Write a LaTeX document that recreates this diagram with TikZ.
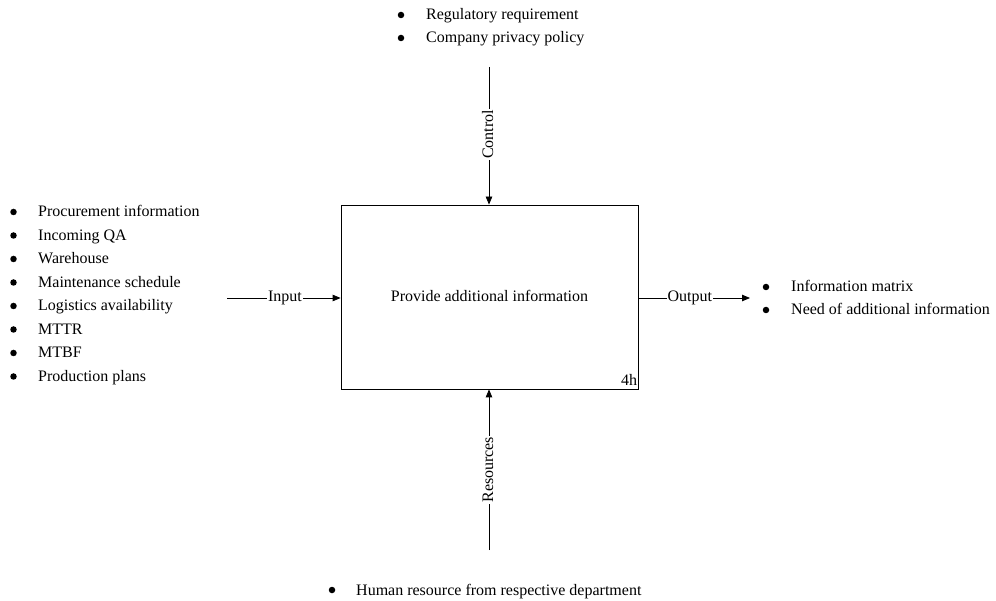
\documentclass[tikz,border=0pt]{standalone}
\usepackage{fontspec}
\setmainfont{Liberation Serif}
\usetikzlibrary{arrows.meta}
\begin{document}
\begin{tikzpicture}[x=1pt,y=-1pt,
  every node/.style={font=\fontsize{16}{19}\selectfont, inner sep=0pt, text height=11pt, text depth=3pt},
  item/.style={anchor=base west},
  dot/.style={circle, fill=black, minimum size=6.5pt, inner sep=0pt, text height=, text depth=},
  flow/.style={draw=black, line width=0.8pt, -{Triangle[length=8pt,width=6.5pt]}},
  tag/.style={fill=white, inner xsep=1pt, inner ysep=0pt},
  activity/.style={draw=black, line width=0.8pt, minimum width=297pt, minimum height=184pt, text height=, text depth=}]
\useasboundingbox (0,0) rectangle (996,601);

% central activity box
\node[activity] (act) at (489.5,297) {};
\node[anchor=base] (actlabel) at (489.5,302) {Provide additional information};
\node[anchor=south east, inner sep=1pt] (dur) at (act.south east) {4h};

% free ends of the four connectors
\coordinate (ctrlend) at (489,67);
\coordinate (resend) at (489,550);
\coordinate (inend) at (227,298);
\coordinate (outend) at (750,298);

% control (top)
\draw[flow] (ctrlend) -- node[tag, rotate=90, pos=0.49] {Control} (act.north -| ctrlend);
% resources (bottom)
\draw[flow] (resend) -- node[tag, rotate=90, pos=0.5] {Resources} (act.south -| resend);
% input (left)
\draw[flow] (inend) -- node[tag, pos=0.51] {Input} (act.west |- inend);
% output (right)
\draw[flow] (act.east |- outend) -- node[tag, pos=0.46] {Output} (outend);

% control list
\node[dot] (c1d) at (401,15) {};
\node[item] (c1) at (426,20) {Regulatory requirement};
\node[dot] (c2d) at (401,38) {};
\node[item] (c2) at (426,43) {Company privacy policy};

% input list
\foreach \t [count=\i] in {Procurement information, Incoming QA, Warehouse, Maintenance schedule, Logistics availability, MTTR, MTBF, Production plans}{
  \node[dot] (in\i d) at (13.5,{212+23.5*(\i-1)}) {};
  \node[item] (in\i) at (38,{217+23.5*(\i-1)}) {\t};
}

% output list
\node[dot] (o1d) at (766,287) {};
\node[item] (o1) at (791,292) {Information matrix};
\node[dot] (o2d) at (766,310) {};
\node[item] (o2) at (791,315) {Need of additional information};

% resources list
\node[dot] (r1d) at (332,590) {};
\node[item] (r1) at (356,595) {Human resource from respective department};
\end{tikzpicture}
\end{document}
